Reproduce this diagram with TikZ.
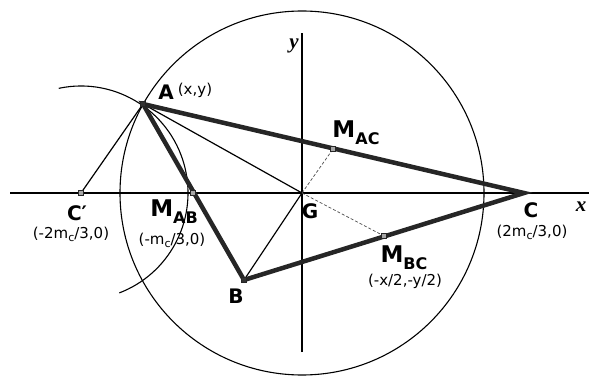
\documentclass[tikz,border=0pt]{standalone}
\usepackage{fontspec}
\setmainfont{DejaVu Sans}
\newfontfamily\axisfont{Liberation Serif}
\newcommand{\lowsub}[1]{\raisebox{-7pt}{\fontsize{16}{16}\selectfont #1}}
\newcommand{\crdsub}[1]{\raisebox{-3pt}{\fontsize{11}{11}\selectfont #1}}

\begin{document}
\begin{tikzpicture}[
        x=1pt, y=1pt,
        lbl/.style={
            inner sep=0pt,
            font=\fontsize{20}{20}\selectfont\bfseries
        },
        mlbl/.style={
            inner sep=0pt,
            font=\fontsize{23}{23}\selectfont\bfseries
        },
        crd/.style={
            inner sep=0pt,
            font=\fontsize{15}{15}\selectfont
        },
        axislbl/.style={
            inner sep=0pt,
            font=\fontsize{21}{21}\selectfont\axisfont\bfseries\itshape
        },
        ptbox/.style={
            draw=black!85,
            fill=black!35,
            rectangle,
            line width=0.8pt,
            minimum size=5pt,
            inner sep=0pt
        },
        side/.style={
            line width=4.5pt,
            draw=black!85,
            line join=miter
        },
        thin line/.style={
            line width=1.2pt,
            draw=black
        },
        axis line/.style={
            line width=1.4pt,
            draw=black
        },
        guide/.style={
            line width=0.7pt,
            draw=black!70,
            densely dashed
        }
    ]
        \useasboundingbox (0,0) rectangle (589,375);

        % points
        \coordinate (G) at (302,182);
        \coordinate (A) at (143,271);
        \coordinate (B) at (244,95);
        \coordinate (C) at (524,182);
        \coordinate (Cp) at (81,182);
        \coordinate (Mab) at (193,182);
        \coordinate (Mac) at (333,226);
        \coordinate (Mbc) at (384,139);
        \coordinate (xl) at (10,182);
        \coordinate (xr) at (589,182);
        \coordinate (yb) at (302,23);
        \coordinate (yt) at (302,342);

        % circles
        \draw[line width=1.1pt] (G) circle[radius=182];
        \draw[line width=1.1pt] (Cp) ++(102:107) arc[start angle=102, end angle=-69, radius=107];

        % axes
        \draw[axis line] (xl) -- (xr);
        \draw[axis line] (yb) -- (yt);

        % medians and helpers
        \draw[thin line] (A) -- (Cp);
        \draw[thin line] (A) -- (G);
        \draw[thin line] (G) -- (B);
        \draw[guide] (G) -- (Mac);
        \draw[guide] (G) -- (Mbc);

        % triangle
        \draw[side] (A) -- (B) -- (C) -- cycle;

        \node[ptbox] (mCp) at (Cp) {};
        \node[ptbox] (mMab) at (Mab) {};
        \node[ptbox] (mMac) at (Mac) {};
        \node[ptbox] (mMbc) at (Mbc) {};
        \node[ptbox, fill=black!80] (mA) at (A) {};
        \node[ptbox, fill=black!80] (mB) at (B) {};

        % labels
        \node[lbl] (lA) at (166,283) {A};
        \node[crd] (cA) at (195,285) {(x,y)};
        \node[axislbl] (ly) at (294,329) {y};
        \node[axislbl] (lx) at (581,168) {x};
        \node[mlbl] (lMac) at (356,242) {M\lowsub{AC}};
        \node[lbl] (lCp) at (77,162) {C′};
        \node[crd] (cCp) at (71,141) {(-2m\crdsub{c}/3,0)};
        \node[mlbl] (lMab) at (174,163) {M\lowsub{AB}};
        \node[crd] (cMab) at (172,135) {(-m\crdsub{c}/3,0)};
        \node[lbl] (lG) at (310,164) {G};
        \node[lbl] (lB) at (236,79) {B};
        \node[lbl] (lC) at (531,165) {C};
        \node[crd] (cC) at (532,143) {(2m\crdsub{c}/3,0)};
        \node[mlbl] (lMbc) at (404,117) {M\lowsub{BC}};
        \node[crd] (cMbc) at (405,94) {(-x/2,-y/2)};
    \end{tikzpicture}
\end{document}
